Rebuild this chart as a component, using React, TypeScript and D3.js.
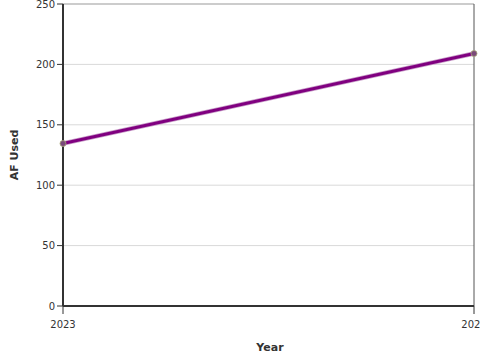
import React from "react";
import * as d3 from "d3";

const years = ["2023", "2024"];
const afUsed = [134.5, 209];
const yTicks = [0, 50, 100, 150, 200, 250];

export default function App() {
  const W = 480, H = 360;
  const m = { l: 63, r: 6, t: 4, b: 54 };
  const x = d3.scalePoint<string>().domain(years).range([m.l, W - m.r]);
  const y = d3.scaleLinear().domain([0, 250]).range([H - m.b, m.t]);
  const line = d3.line<number>().x((_, i) => x(years[i])!).y((d) => y(d));
  const font = "DejaVu Sans, sans-serif";
  return (
    <svg width={W} height={H} style={{ position: "absolute", left: 0, top: 0 }} fontFamily={font}>
      <rect x={0} y={0} width={W} height={H} fill="#fff" />
      {yTicks.map((t) => (
        <g key={t}>
          {t > 0 && (
            <line x1={m.l} x2={W - m.r} y1={y(t)} y2={y(t)} stroke={t === 250 ? "#999" : "#d9d9d9"} strokeWidth={1} />
          )}
          <line x1={m.l - 6} x2={m.l} y1={y(t)} y2={y(t)} stroke="#333" strokeWidth={1} />
          <text x={m.l - 8} y={y(t)} dy="0.35em" textAnchor="end" fontSize={10} fill="#333">{t}</text>
        </g>
      ))}
      <line x1={W - m.r} x2={W - m.r} y1={m.t} y2={y(0)} stroke="#555" strokeWidth={1} />
      <line x1={m.l} x2={m.l} y1={m.t} y2={y(0)} stroke="#333" strokeWidth={2} />
      <line x1={m.l} x2={W - m.r} y1={y(0)} y2={y(0)} stroke="#333" strokeWidth={2} />
      {years.map((yr) => (
        <g key={yr}>
          <line x1={x(yr)} x2={x(yr)} y1={y(0)} y2={y(0) + 8} stroke="#333" strokeWidth={1} />
          <text x={x(yr)} y={y(0) + 22} textAnchor="middle" fontSize={10} fill="#333">{yr}</text>
        </g>
      ))}
      <path d={line(afUsed)!} fill="none" stroke="#c9a0c9" strokeWidth={4.5} />
      <path d={line(afUsed)!} fill="none" stroke="#800080" strokeWidth={3} />
      {afUsed.map((v, i) => (
        <circle key={i} cx={x(years[i])} cy={y(v)} r={3} fill="#7a4a7a" stroke="#a8a878" strokeWidth={0.8} />
      ))}
      <text x={270} y={351} textAnchor="middle" fontSize={11} fontWeight="bold" fill="#333">Year</text>
      <text transform={`translate(18,${(m.t + y(0)) / 2}) rotate(-90)`} textAnchor="middle" fontSize={11} fontWeight="bold" fill="#333">AF Used</text>
    </svg>
  );
}
